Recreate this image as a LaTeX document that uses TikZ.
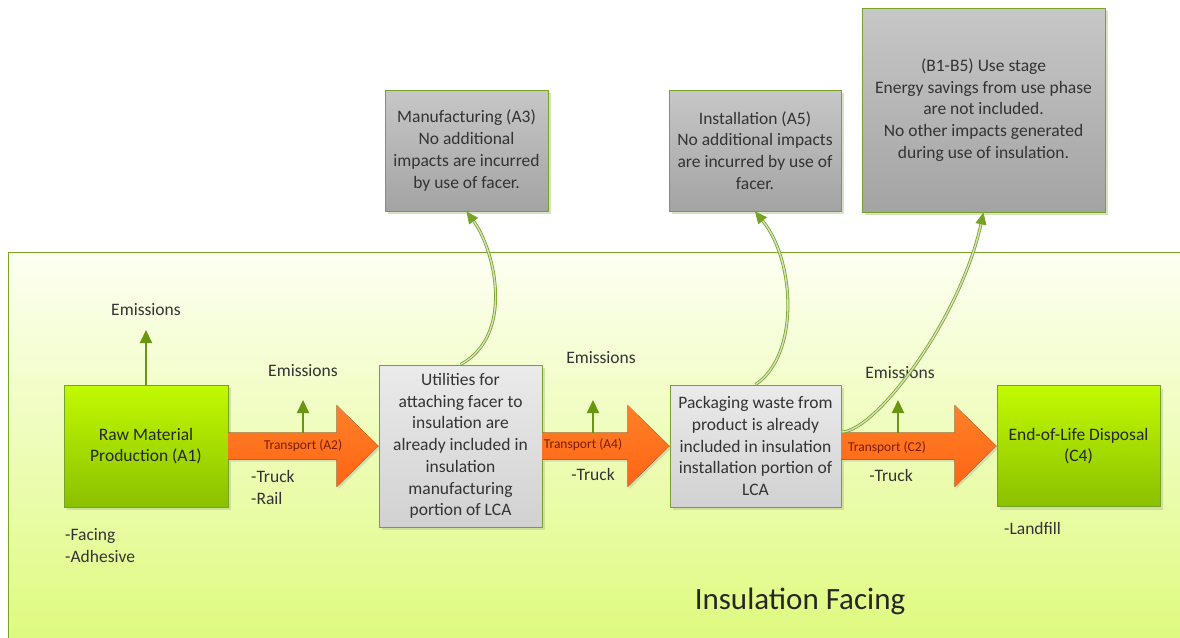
\documentclass[tikz,border=0pt]{standalone}
\usepackage{fontspec}
\setmainfont{Carlito}
\usetikzlibrary{arrows.meta,shadows,calc}

\definecolor{lcaborder}{RGB}{118,162,38}
\definecolor{lcagreen}{RGB}{104,150,16}
\definecolor{grtop}{RGB}{194,250,0}
\definecolor{grbot}{RGB}{138,192,0}
\definecolor{ortop}{RGB}{255,128,40}
\definecolor{orbot}{RGB}{255,100,20}
\definecolor{transtext}{RGB}{120,30,0}
\definecolor{bgtop}{RGB}{253,255,242}
\definecolor{bgbot}{RGB}{222,250,125}

\tikzset{
  boxfont/.style={font=\fontsize{17.5}{21.7}\selectfont},
  stage/.style={boxfont, draw=lcaborder, line width=1pt, align=center, inner sep=4pt,
    top color=grtop, bottom color=grbot, text=black!85,
    drop shadow={shadow xshift=3pt, shadow yshift=-3pt, fill=lcaborder!50, opacity=.6}},
  note/.style={stage, top color=black!8, bottom color=black!18, text=black!80},
  impact/.style={stage, top color=black!22, bottom color=black!36, text=black!80},
  lbl/.style={boxfont, text=black!80, inner sep=1pt},
  translbl/.style={font=\fontsize{13.5}{15}\selectfont, text=transtext, inner sep=1pt},
  transport/.style={top color=ortop, bottom color=orbot,
    drop shadow={shadow xshift=2pt, shadow yshift=-2pt, fill=black!40, opacity=.3}},
  emit/.style={draw=lcagreen, line width=2pt, -{Triangle[length=13pt,width=12pt]}},
  link/.style={draw=lcaborder, double=white!70!lcaborder, double distance=1.4pt, line width=.8pt,
    -{Triangle[length=12pt,width=11pt]}}
}

\begin{document}
\begin{tikzpicture}[x=1pt, y=-1pt, line join=round]
  \useasboundingbox (0,0) rectangle (1180,637);
  % background panel
  \shade[top color=bgtop, bottom color=bgbot] (8,252) rectangle (1190,645);
  \draw[lcaborder, line width=1pt] (1190,252) -- (8,252) -- (8,645);

  % life cycle boxes
  \node[stage, minimum width=164pt, minimum height=122pt] (a1) at (146,446) {Raw Material\\Production (A1)};
  \node[note, minimum width=163pt, minimum height=162pt] (util) at (460.5,446) {Utilities for\\attaching facer to\\insulation are\\already included in\\insulation\\manufacturing\\portion of LCA};
  \node[note, minimum width=171pt, minimum height=122pt] (pack) at (755.5,446) {Packaging waste from\\product is already\\included in insulation\\installation portion of\\LCA};
  \node[stage, minimum width=163pt, minimum height=121pt] (eol) at (1078.5,446) {End-of-Life Disposal\\(C4)};

  % impact boxes
  \node[impact, minimum width=163pt, minimum height=121pt] (manu) at (466.5,150.5) {Manufacturing (A3)\\No additional\\impacts are incurred\\by use of facer.};
  \node[impact, minimum width=172pt, minimum height=121pt] (inst) at (755,150.5) {Installation (A5)\\No additional impacts\\are incurred by use of\\facer.};
  \node[impact, minimum width=243pt, minimum height=204pt] (use) at (983.5,110) {(B1-B5) Use stage\\Energy savings from use phase\\are not included.\\No other impacts generated\\during use of insulation.};

  % transport arrows
  \foreach \s/\t in {a1/util, util/pack, pack/eol}
    \fill[transport] ($(\s.east)+(0,13.5)$) -- ($(\t.west)+(-42,13.5)$) -- ($(\t.west)+(-42,41)$)
      -- (\t.west) -- ($(\t.west)+(-42,-41)$) -- ($(\t.west)+(-42,-13.5)$) -- ($(\s.east)+(0,-13.5)$) -- cycle;
  \node[translbl] (t2) at (303,446) {Transport (A2)};
  \node[translbl] (t4) at (583,445) {Transport (A4)};
  \node[translbl] (c2) at (887,448) {Transport (C2)};

  % emissions
  \node[lbl] (em1) at (146,310) {Emissions};
  \node[lbl] (em2) at (303,371) {Emissions};
  \node[lbl] (em4) at (601,358) {Emissions};
  \node[lbl] (emc) at (900,373) {Emissions};
  \coordinate (e1) at (146,330);
  \coordinate (s2) at (303,433);
  \coordinate (e2) at (303,400);
  \coordinate (s4) at (593,433);
  \coordinate (e4) at (593,400);
  \coordinate (sc) at (898,433);
  \coordinate (ec) at (898,400);
  \draw[emit] (a1.north) -- (e1);
  \draw[emit] (s2) -- (e2);
  \draw[emit] (s4) -- (e4);
  \draw[emit] (sc) -- (ec);

  % transport modes and inputs
  \node[lbl, anchor=west, align=left] (mode2) at (250,487.5) {-Truck\\-Rail};
  \node[lbl] (mode4) at (593,474) {-Truck};
  \node[lbl] (modec) at (891,475) {-Truck};
  \node[lbl, anchor=west, align=left] (inputs) at (64,545.5) {-Facing\\-Adhesive};
  \node[lbl, anchor=west] (fill) at (1003,528) {-Landfill};

  % links to impact boxes
  \draw[link] (util.north) .. controls (515,335) and (495,250) .. (manu.south);
  \draw[link] (pack.north) .. controls (800,355) and (795,260) .. (inst.south);
  \draw[link] ([yshift=14pt]pack.east) .. controls (875,432) and (960,320) .. (use.south);

  \node[font=\fontsize{31}{36}\selectfont, text=black!85] (title) at (800,601) {Insulation Facing};
\end{tikzpicture}
\end{document}
